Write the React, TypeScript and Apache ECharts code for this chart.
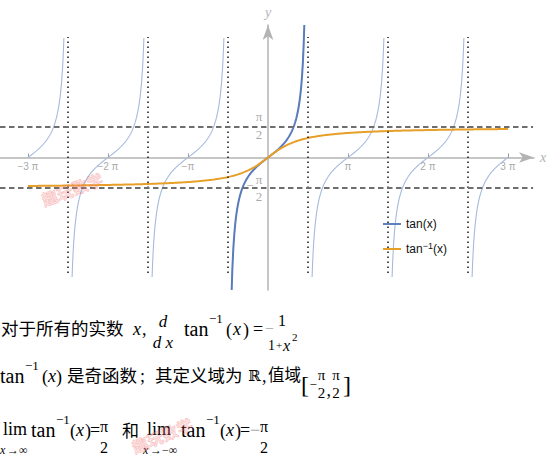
import React, { useEffect, useRef } from 'react';
import * as echarts from 'echarts';

const PI = Math.PI;

// Axis ranges (chart units)
const X_MIN = -10.524;
const X_MAX = 10.446;
const Y_MIN = -6.82;
const Y_MAX = 6.82;

// Grid box (pixels)
const GRID_LEFT = 0;
const GRID_TOP = 25;
const GRID_W = 534;
const GRID_H = 265;

// Plotted domain and clipping heights
const X_DOMAIN = [-3 * PI, 3 * PI];
const LIGHT_CLIP = 6.15;
const DARK_CLIP = 6.82;
const TAN_BRANCH_CENTERS = [-3, -2, -1, 0, 1, 2, 3];

// Ticks
const xTickValues = [-3 * PI, -2 * PI, -PI, PI, 2 * PI, 3 * PI];
const xTickLabels = ['−3 π', '−2 π', '−π', 'π', '2 π', '3 π'];

// Reference lines
const asymptotes = [-5 * PI / 2, -3 * PI / 2, -PI / 2, PI / 2, 3 * PI / 2, 5 * PI / 2];
const asymptoteSpan = [-5.95, 6.2];
const hLines = [PI / 2, -PI / 2];
const hLineEnd = 10.41;

const SERIF = '"Liberation Serif", "Times New Roman", "DejaVu Serif", serif';
const CJK = '"Noto Sans CJK SC", sans-serif';
const SANS = '"Liberation Sans", Arial, sans-serif';

function tanBranch(k: number, clip: number) {
  const a = Math.atan(clip);
  const lo = Math.max(k * PI - a, X_DOMAIN[0]);
  const hi = Math.min(k * PI + a, X_DOMAIN[1]);
  const xs: number[] = [];
  const n = 300;
  for (let i = 0; i <= n; i++) xs.push(lo + (hi - lo) * i / n);
  const s0 = Math.tan(lo - k * PI), s1 = Math.tan(hi - k * PI);
  for (let i = 0; i <= n; i++) xs.push(k * PI + Math.atan(s0 + (s1 - s0) * i / n));
  xs.sort((p, q) => p - q);
  return xs.map((x) => [x, Math.tan(x)]);
}

function arctanCurve() {
  const pts: number[][] = [];
  const n = 400;
  for (let i = 0; i <= n; i++) {
    const x = X_DOMAIN[0] + (X_DOMAIN[1] - X_DOMAIN[0]) * i / n;
    pts.push([x, Math.atan(x)]);
  }
  return pts;
}

type Piece = { t: string; x: number; y: number; s?: number; i?: boolean; c?: string; a?: string; cjk?: boolean };

function txt(p: Piece) {
  return {
    type: 'text',
    x: p.x,
    y: p.y,
    silent: true,
    z: 10,
    style: {
      text: p.t,
      fill: p.c ?? '#000',
      fontSize: p.s ?? 18,
      fontFamily: p.cjk ? CJK : SERIF,
      fontStyle: p.i ? 'italic' : 'normal',
      align: p.a ?? 'left',
      verticalAlign: 'middle',
      textAlign: p.a ?? 'left',
      textVerticalAlign: 'middle',
    },
  };
}

const GRAY = '#aaa';

const bottomText: Piece[] = [
  // line 1
  { t: '对于所有的实数', x: 1, y: 327, s: 17.5, cjk: true },
  { t: 'x', x: 133, y: 329, i: true },
  { t: ',', x: 142, y: 329 },
  { t: 'd', x: 163, y: 321, s: 17, i: true, a: 'center' },
  { t: 'd x', x: 163, y: 342, s: 17, i: true, a: 'center' },
  { t: 'tan', x: 184, y: 329, s: 20 },
  { t: '−1', x: 209, y: 318, s: 13 },
  { t: '(', x: 226, y: 330 },
  { t: 'x', x: 233, y: 329, i: true },
  { t: ')', x: 243, y: 330 },
  { t: '=', x: 253, y: 329 },
  { t: '−', x: 265, y: 328, c: GRAY, s: 16 },
  { t: '1', x: 282, y: 320, s: 16, a: 'center' },
  { t: '1', x: 268, y: 345, s: 14 },
  { t: '+', x: 276, y: 345, s: 11 },
  { t: 'x', x: 283, y: 345, s: 16, i: true },
  { t: '2', x: 292, y: 337, s: 11 },
  // line 2
  { t: 'tan', x: 0, y: 376, s: 20 },
  { t: '−1', x: 25, y: 365, s: 13 },
  { t: '(', x: 42, y: 377 },
  { t: 'x', x: 48, y: 376, i: true },
  { t: ')', x: 56, y: 377 },
  { t: '是奇函数', x: 67, y: 374, s: 17.5, cjk: true },
  { t: ';', x: 140, y: 376 },
  { t: '其定义域为', x: 155, y: 374, s: 17.5, cjk: true },
  { t: 'ℝ', x: 248, y: 376, s: 15 },
  { t: ',', x: 262, y: 376 },
  { t: '值域', x: 268, y: 374, s: 16.5, cjk: true },
  { t: '[', x: 301, y: 385, s: 24 },
  { t: '−', x: 309.5, y: 384, s: 13 },
  { t: 'π', x: 321.5, y: 375, s: 15, a: 'center' },
  { t: '2', x: 321.5, y: 393, s: 15, a: 'center' },
  { t: ',', x: 326.5, y: 390 },
  { t: 'π', x: 336, y: 375, s: 15, a: 'center' },
  { t: '2', x: 336, y: 393, s: 15, a: 'center' },
  { t: ']', x: 343, y: 385, s: 24 },
  // line 3
  { t: 'lim', x: 3, y: 429, s: 18 },
  { t: 'x', x: 0, y: 450, s: 12, i: true },
  { t: '→∞', x: 7, y: 450, s: 12 },
  { t: 'tan', x: 31, y: 430, s: 20 },
  { t: '−1', x: 56, y: 419, s: 13 },
  { t: '(', x: 70, y: 431 },
  { t: 'x', x: 76, y: 430, i: true },
  { t: ')', x: 85, y: 431 },
  { t: '=', x: 90, y: 430 },
  { t: 'π', x: 104, y: 426, s: 16, a: 'center' },
  { t: '2', x: 104, y: 447, s: 16, a: 'center' },
  { t: '和', x: 122, y: 429, s: 17, cjk: true },
  { t: 'lim', x: 147, y: 429, s: 18 },
  { t: 'x', x: 143, y: 450, s: 12, i: true },
  { t: '→−∞', x: 150, y: 450, s: 12 },
  { t: 'tan', x: 181, y: 430, s: 20 },
  { t: '−1', x: 206, y: 419, s: 13 },
  { t: '(', x: 220, y: 431 },
  { t: 'x', x: 226, y: 430, i: true },
  { t: ')', x: 235, y: 431 },
  { t: '=', x: 240, y: 430 },
  { t: '−', x: 250, y: 430, c: GRAY },
  { t: 'π', x: 264, y: 426, s: 16, a: 'center' },
  { t: '2', x: 264, y: 447, s: 16, a: 'center' },
];

const watermarks = [
  { x: 72, y: 189, r: 0.36 },
  { x: 162, y: 435, r: 0.4 },
];

export default function App() {
  const ref = useRef<HTMLDivElement>(null);

  useEffect(() => {
    if (!ref.current) return;
    const chart = echarts.init(ref.current, undefined, { renderer: 'svg' });

    const lightSeries = TAN_BRANCH_CENTERS.map((k) => ({
      name: 'tanLight' + k,
      type: 'line',
      data: tanBranch(k, LIGHT_CLIP),
      showSymbol: false,
      symbol: 'none',
      silent: true,
      clip: true,
      z: 2,
      lineStyle: { color: '#a6badf', width: 1.1 },
    }));

    const markLineData: any[] = [];
    asymptotes.forEach((a) => {
      markLineData.push([
        { coord: [a, asymptoteSpan[0]], lineStyle: { color: '#222', width: 1.6, type: [1.6, 3.4] } },
        { coord: [a, asymptoteSpan[1]] },
      ]);
    });
    hLines.forEach((h) => {
      markLineData.push([
        { coord: [X_MIN, h], lineStyle: { color: '#6e6e6e', width: 1.8, type: [5.5, 3.5] } },
        { coord: [hLineEnd, h] },
      ]);
    });

    // put the axes through the origin
    const xAxisOffset = -GRID_H * (0 - Y_MIN) / (Y_MAX - Y_MIN);
    const yAxisOffset = -GRID_W * (0 - X_MIN) / (X_MAX - X_MIN);

    const option: any = {
      animation: false,
      backgroundColor: '#fff',
      textStyle: { fontFamily: SANS },
      grid: { left: GRID_LEFT, top: GRID_TOP, width: GRID_W, height: GRID_H, containLabel: false },
      legend: {
        data: ['tan(x)', 'arctan'],
        orient: 'vertical',
        left: 378,
        top: 211,
        itemWidth: 18,
        itemHeight: 2,
        itemGap: 9,
        icon: 'rect',
        formatter: (name: string) => (name === 'arctan' ? 'tan{sup|−1}(x)' : 'tan(x)'),
        textStyle: {
          fontSize: 12,
          color: '#111',
          lineHeight: 16,
          fontFamily: SANS,
          rich: { sup: { fontSize: 9, verticalAlign: 'top', lineHeight: 9, fontFamily: SANS, color: '#111' } },
        },
      },
      xAxis: {
        type: 'value',
        position: 'bottom',
        offset: xAxisOffset,
        min: X_MIN,
        max: X_MAX,
        splitLine: { show: false },
        name: 'x',
        nameLocation: 'end',
        nameGap: 6,
        nameTextStyle: { color: '#b0b0b0', fontStyle: 'italic', fontSize: 14, fontFamily: SERIF, verticalAlign: 'middle' },
        axisLine: {
          onZero: false,
          lineStyle: { color: '#b3b3b3', width: 1.5 },
          symbol: ['none', 'arrow'],
          symbolSize: [8, 15],
        },
        axisTick: { show: true, inside: true, length: 4, customValues: xTickValues, lineStyle: { color: '#999', width: 1 } },
        axisLabel: {
          customValues: xTickValues,
          formatter: (v: number) => {
            const i = xTickValues.findIndex((t) => Math.abs(t - v) < 1e-6);
            return i >= 0 ? xTickLabels[i] : '';
          },
          color: GRAY,
          fontSize: 10,
          margin: 4,
          fontFamily: SANS,
        },
      },
      yAxis: {
        type: 'value',
        position: 'left',
        offset: yAxisOffset,
        min: Y_MIN,
        max: Y_MAX,
        splitLine: { show: false },
        name: 'y',
        nameLocation: 'end',
        nameGap: 6,
        nameTextStyle: { color: '#b8b0c0', fontStyle: 'italic', fontSize: 14, fontFamily: SERIF },
        axisLine: {
          onZero: false,
          lineStyle: { color: '#b3b3b3', width: 1.5 },
          symbol: ['none', 'arrow'],
          symbolSize: [8, 15],
        },
        axisTick: { show: false },
        axisLabel: { show: false },
      },
      series: [
        ...lightSeries,
        {
          name: 'tan(x)',
          type: 'line',
          data: tanBranch(0, DARK_CLIP),
          showSymbol: false,
          symbol: 'none',
          clip: true,
          z: 3,
          itemStyle: { color: '#5f80bf' },
          lineStyle: { color: '#5a7cbc', width: 2 },
        },
        {
          name: 'arctan',
          type: 'line',
          data: arctanCurve(),
          showSymbol: false,
          symbol: 'none',
          clip: false,
          z: 4,
          itemStyle: { color: '#e89f28' },
          lineStyle: { color: '#e89f28', width: 2 },
          markLine: {
            silent: true,
            symbol: 'none',
            label: { show: false },
            emphasis: { disabled: true },
            data: markLineData,
          },
        },
      ],
    };

    chart.setOption(option);

    const p1 = chart.convertToPixel({ gridIndex: 0 } as any, [0, PI / 2]) as number[];
    const p2 = chart.convertToPixel({ gridIndex: 0 } as any, [0, -PI / 2]) as number[];
    const ax = p1[0];

    const yLabel = (t: string, x: number, y: number) => ({
      type: 'text',
      x,
      y,
      silent: true,
      z: 10,
      style: {
        text: t,
        fill: GRAY,
        fontSize: 13,
        fontFamily: SERIF,
        align: 'center',
        verticalAlign: 'middle',
        textAlign: 'center',
        textVerticalAlign: 'middle',
      },
    });

    const graphics: any[] = [
      yLabel('π', ax - 9, p1[1] - 10),
      yLabel('2', ax - 9, p1[1] + 8),
      yLabel('−', ax - 18, p2[1] - 3),
      yLabel('π', ax - 9, p2[1] - 9),
      yLabel('2', ax - 9, p2[1] + 8),
      ...bottomText.map(txt),
      ...watermarks.map((w) => ({
        type: 'text',
        x: w.x,
        y: w.y,
        rotation: w.r,
        silent: true,
        z: 20,
        style: {
          text: '趣玩数学',
          fill: 'rgba(245,130,130,0.22)',
          stroke: 'rgba(235,90,90,0.35)',
          lineWidth: 0.6,
          fontSize: 16,
          fontWeight: 'bold',
          fontFamily: CJK,
          align: 'center',
          verticalAlign: 'middle',
          textAlign: 'center',
          textVerticalAlign: 'middle',
        },
      })),
    ];

    chart.setOption({ graphic: graphics });

    return () => {
      chart.dispose();
    };
  }, []);

  return (
    <div
      ref={ref}
      style={{ position: 'fixed', left: 0, top: 0, width: 550, height: 457, background: '#fff' }}
    />
  );
}
